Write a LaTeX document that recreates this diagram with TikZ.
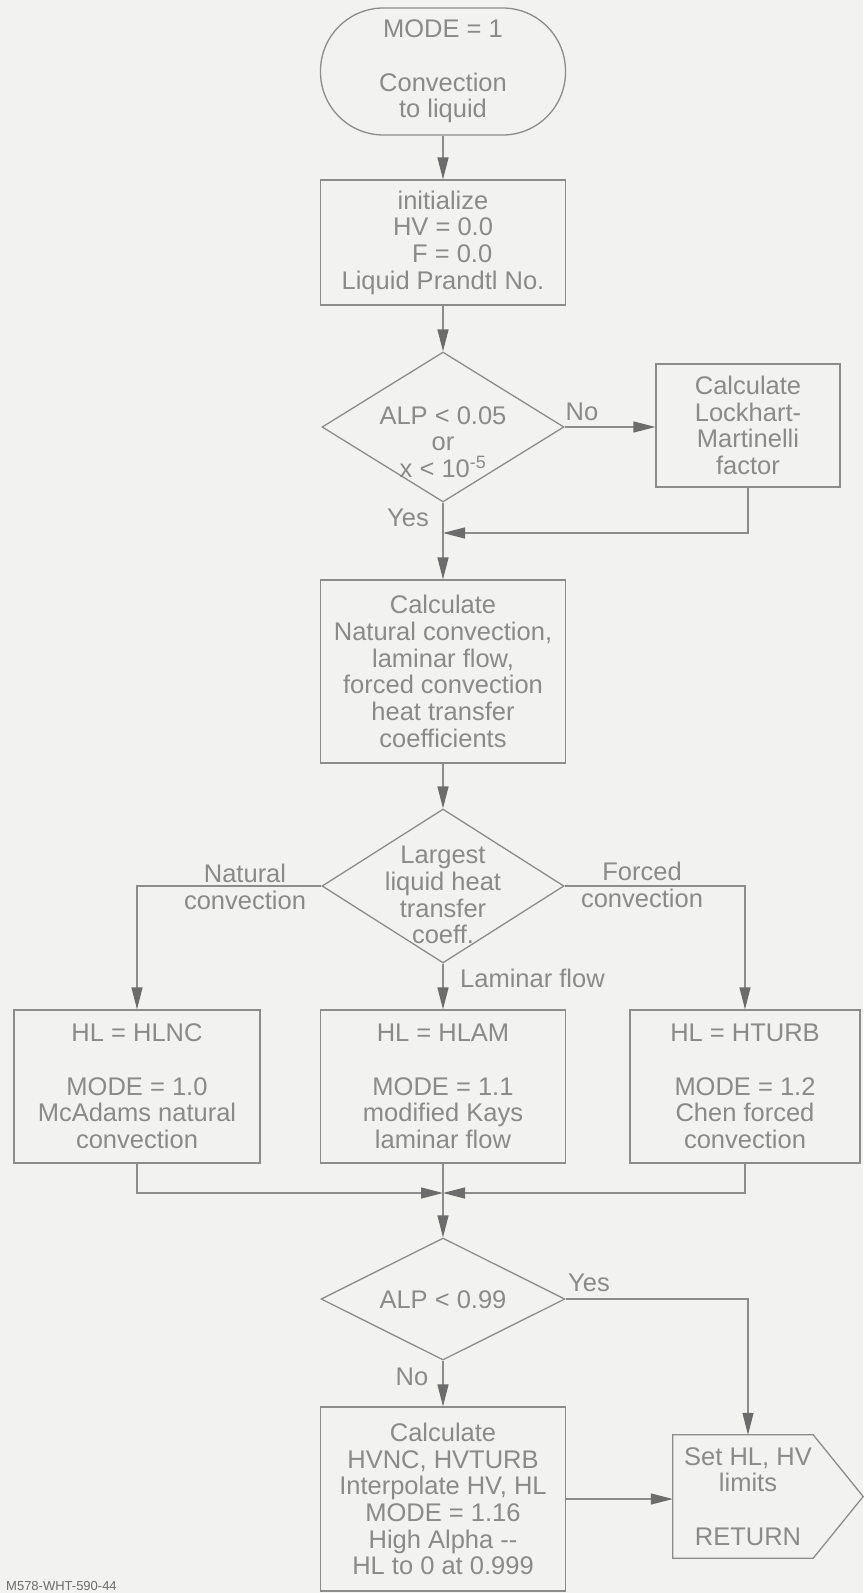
\documentclass[tikz,border=0pt]{standalone}
\usepackage{fontspec}
\setmainfont{Liberation Sans}
\usetikzlibrary{arrows.meta,shapes.geometric}

\definecolor{bg}{HTML}{F2F2F0}
\definecolor{ink}{HTML}{8A8A8A}
\definecolor{edge}{HTML}{8C8C8C}
\definecolor{tip}{HTML}{6C6C6C}

\tikzset{
  x=1pt, y=-1pt,
  every node/.style={font=\fontsize{25.5}{26.7}\selectfont, text=ink, inner sep=0pt},
  box/.style={draw=edge, line width=1.3pt, rectangle, align=center,
              minimum width=245pt},
  choice/.style={draw=edge, line width=1.3pt, diamond, minimum width=242pt},
  lbl/.style={align=center},
  flow/.style={draw=edge, line width=1.3pt,
               -{Triangle[length=22pt,width=11pt,color=tip]}},
  wire/.style={draw=edge, line width=1.3pt},
}

\begin{document}
\begin{tikzpicture}
\fill[bg] (0,0) rectangle (863,1593);
\useasboundingbox (0,0) rectangle (863,1593);

% start terminator
\node[box, rounded corners=63pt, minimum height=127pt] (start) at (443,71.5)
  {MODE = 1\\[26.7pt]Convection\\to liquid};

% initialisation
\node[box, minimum height=125pt] (init) at (443,242.5)
  {initialize\\HV = 0.0\\\phantom{H}F = 0.0\\Liquid Prandtl No.};

% first test
\node[choice, minimum height=150pt] (d1) at (443,427) {};
\node[lbl] (d1t) at (443,442) {ALP < 0.05\\or\\x < 10\textsuperscript{-5}};

\node[box, minimum width=184pt, minimum height=123pt] (lock) at (748,425.5)
  {Calculate\\Lockhart-\\Martinelli\\factor};

\coordinate (j1) at (443,533);

% coefficients
\node[box, minimum height=183pt] (coef) at (443,671.5)
  {Calculate\\Natural convection,\\laminar flow,\\forced convection\\heat transfer\\coefficients};

% second test
\node[choice, minimum height=154pt] (d2) at (443,886) {};
\node[lbl] (d2t) at (443,895) {Largest\\liquid heat\\transfer\\coeff.};

% three correlations
\node[box, minimum width=246pt, minimum height=153pt] (hlnc) at (137,1086.5)
  {HL = HLNC\\[26.7pt]MODE = 1.0\\McAdams natural\\convection};
\node[box, minimum height=153pt] (hlam) at (443,1086.5)
  {HL = HLAM\\[26.7pt]MODE = 1.1\\modified Kays\\laminar flow};
\node[box, minimum width=230pt, minimum height=153pt] (hturb) at (745,1086.5)
  {HL = HTURB\\[26.7pt]MODE = 1.2\\Chen forced\\convection};

\coordinate (m) at (443,1193);

% third test
\node[choice, minimum width=244pt, minimum height=122pt] (d3) at (443,1299) {};
\node[lbl] (d3t) at (443,1300) {ALP < 0.99};

% high alpha interpolation
\node[box, minimum height=184pt] (calc) at (443,1499)
  {Calculate\\HVNC, HVTURB\\Interpolate HV, HL\\MODE = 1.16\\High Alpha -{}-\\HL to 0 at 0.999};

% exit
\node[minimum width=150pt, minimum height=123pt, align=center] (set) at (748,1496.5)
  {Set HL, HV\\limits\\[26.7pt]RETURN};
\draw[wire] (set.north west) -- ([xshift=-10pt]set.north east)
  -- ([xshift=40pt]set.east) -- ([xshift=-10pt]set.south east)
  -- (set.south west) -- cycle;

% branch labels
\node[lbl] (no1) at (582,412) {No};
\node[lbl] (yes1) at (408,518) {Yes};
\node[lbl] (nat) at (245,887) {Natural\\convection};
\node[lbl] (frc) at (642,885) {Forced\\convection};
\node[lbl, anchor=west] (lam) at (460,978) {Laminar flow};
\node[lbl] (yes2) at (589,1283) {Yes};
\node[lbl] (no2) at (412,1377) {No};

\node[anchor=west, font=\fontsize{13}{14}\selectfont, text=tip] (tag) at (6,1586)
  {M578-WHT-590-44};

% connectors
\draw[flow] (start) -- (init);
\draw[flow] (init) -- (d1);
\draw[flow] (d1.east) -- (d1.east -| lock.west);
\draw[flow] (lock.south) |- (j1);
\draw[flow] (d1.south) -- (coef.north);
\draw[flow] (coef) -- (d2);
\draw[flow] (d2.west) -| (hlnc.north);
\draw[flow] (d2.east) -| (hturb.north);
\draw[flow] (d2.south) -- (hlam.north);
\draw[flow] (hlnc.south) |- (m);
\draw[flow] (hturb.south) |- (m);
\draw[flow] (hlam.south) -- (d3.north);
\draw[flow] (d3.east) -| (set.north);
\draw[flow] (d3.south) -- (calc.north);
\draw[flow] (calc.east) -- (calc.east -| set.west);
\end{tikzpicture}
\end{document}
